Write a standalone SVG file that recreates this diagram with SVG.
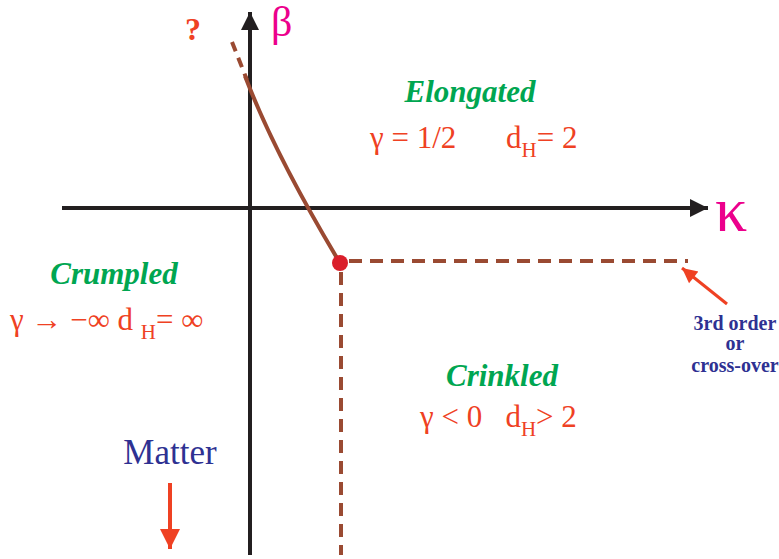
<svg xmlns="http://www.w3.org/2000/svg" width="779" height="559" viewBox="0 0 779 559">
<style>
.ax{stroke:#231f20;stroke-width:4;fill:none}
.br{stroke:#9a4a32;stroke-width:4;fill:none}
.dash{stroke-dasharray:13,8}
.ph{font-family:"Liberation Serif","Times New Roman",serif;font-weight:bold;font-style:italic;font-size:31px;fill:#00a651}
.eq{font-family:"Liberation Serif","Times New Roman",serif;font-size:31px;fill:#ef4123}
.sub{font-size:21px}
.blue{font-family:"Liberation Serif","Times New Roman",serif;fill:#2e3192}
.cb{font-weight:bold;font-size:20px}
.mag{font-family:"Liberation Serif","Times New Roman",serif;fill:#ec008c}
</style>
<defs>
<marker id="ah" viewBox="0 0 10 10" refX="10" refY="5" markerWidth="5.5" markerHeight="4.5" markerUnits="strokeWidth" orient="auto"><path d="M0,0L10,5L0,10z" fill="#231f20"/></marker>
<marker id="ra" viewBox="0 0 10 10" refX="10" refY="5" markerWidth="6" markerHeight="5" markerUnits="strokeWidth" orient="auto"><path d="M0,0L10,5L0,10z" fill="#ef4123"/></marker>
</defs>
<g id="axes">
<line class="ax" x1="250" y1="555" x2="250" y2="12" marker-end="url(#ah)"/>
<line class="ax" x1="62" y1="208" x2="708" y2="208" marker-end="url(#ah)"/>
</g>
<g id="connectors">
<line class="br" x1="232" y1="42" x2="247" y2="80" stroke-dasharray="10,7"/>
<path class="br" d="M245,76 Q275,155 340,263"/>
<line class="br dash" x1="349" y1="261" x2="688" y2="261"/>
<line class="br dash" x1="341" y1="272" x2="341" y2="555"/>
<line stroke="#ef4123" stroke-width="3" x1="727" y1="304" x2="682" y2="268" marker-end="url(#ra)"/>
<line stroke="#ef4123" stroke-width="4" x1="170" y1="483" x2="170" y2="549" marker-end="url(#ra)"/>
</g>
<g id="critical-point"><circle cx="340" cy="263" r="8" fill="#da1f2b"/></g>
<g id="labels">
<text x="193" y="40" text-anchor="middle" font-family="'Liberation Serif',serif" font-weight="bold" font-size="32" fill="#ef4123">?</text>
<text class="mag" x="271" y="36" font-size="42">β</text>
<text class="mag" x="715" y="231" font-size="64">κ</text>
</g>
<g id="elongated">
<text class="ph" x="470" y="102" text-anchor="middle">Elongated</text>
<text class="eq" x="370" y="148">γ = 1/2</text>
<text class="eq" x="506" y="148">d<tspan class="sub" dy="9">H</tspan><tspan dy="-9">= 2</tspan></text>
</g>
<g id="crumpled">
<text class="ph" x="114" y="284" text-anchor="middle">Crumpled</text>
<text class="eq" x="10" y="330">γ → −∞  d <tspan class="sub" dy="9">H</tspan><tspan dy="-9">= ∞</tspan></text>
</g>
<g id="crinkled">
<text class="ph" x="502" y="386" text-anchor="middle">Crinkled</text>
<text class="eq" x="420" y="427" xml:space="preserve">γ &lt; 0   d<tspan class="sub" dy="9">H</tspan><tspan dy="-9">&gt; 2</tspan></text>
</g>
<g id="crossover">
<text class="blue cb" x="735" y="330" text-anchor="middle">3rd order</text>
<text class="blue cb" x="735" y="350" text-anchor="middle">or</text>
<text class="blue cb" x="735" y="372" text-anchor="middle">cross-over</text>
</g>
<g id="matter">
<text class="blue" x="170" y="464" text-anchor="middle" font-size="35">Matter</text>
</g>
</svg>
